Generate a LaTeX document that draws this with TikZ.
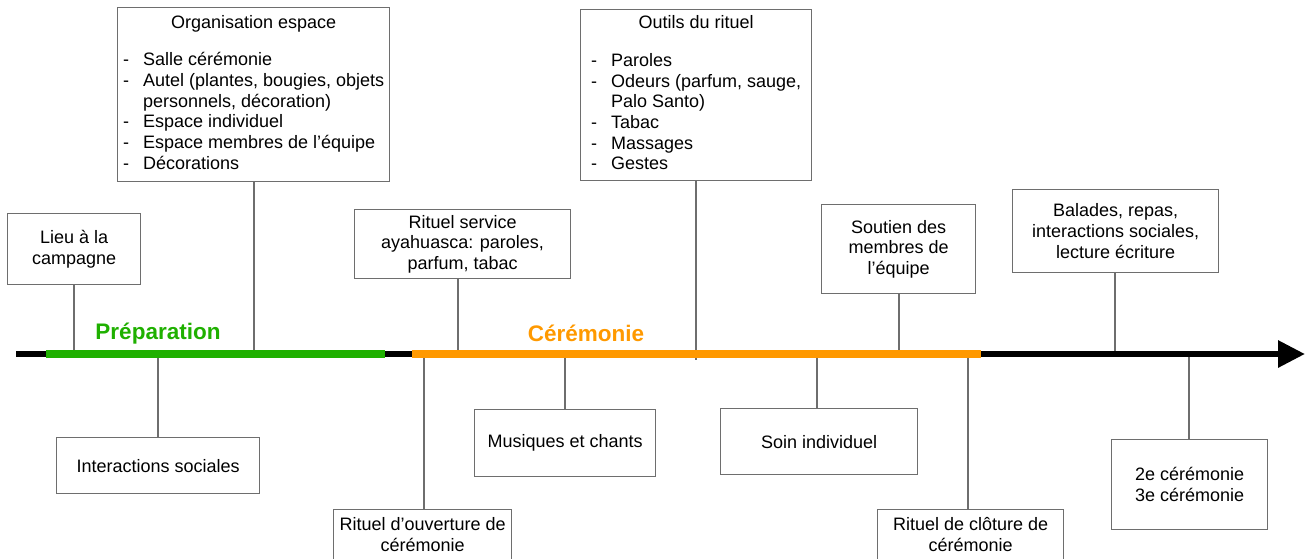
\documentclass[tikz,border=0pt]{standalone}
\usepackage{fontspec}
\setmainfont{Liberation Sans}
\usetikzlibrary{arrows.meta}
\definecolor{vertPrep}{RGB}{31,176,0}
\definecolor{orangeCer}{RGB}{255,153,0}
\definecolor{gris}{RGB}{110,110,110}
\begin{document}
\begin{tikzpicture}[x=1pt, y=-1pt,
  kasten/.style={draw=gris, line width=1.2pt, align=center, inner sep=0pt, anchor=north west,
    font=\fontsize{18}{20.7}\selectfont},
  strich/.style={draw=gris, line width=1.2pt},
  phase/.style={font=\bfseries\fontsize{22.5}{26}\selectfont}]
\useasboundingbox (0,0) rectangle (1309,558);

		%Punkte auf der Zeitachse
		\coordinate (t1) at (74,354);
		\coordinate (t2) at (254,354);
		\coordinate (t3) at (458,354);
		\coordinate (t4) at (696,354);
		\coordinate (t5) at (899,354);
		\coordinate (t6) at (1115,354);
		\coordinate (t7) at (158,354);
		\coordinate (t8) at (424,354);
		\coordinate (t9) at (565,354);
		\coordinate (t10) at (817,354);
		\coordinate (t11) at (968,354);
		\coordinate (t12) at (1189,354);
		\coordinate (t4b) at (696,360);

		%Kaesten oben
		\node[kasten, minimum width=133pt, minimum height=71pt] (lieu) at (7,213) {Lieu à la\\campagne};
		\node[kasten, minimum width=272pt, minimum height=174pt] (orga) at (117,7) {%
			\begin{tabular}{@{}l@{\hspace{14pt}}l@{}}
			\multicolumn{2}{c}{Organisation espace}\\[17pt]
			- & Salle cérémonie\\
			- & Autel (plantes, bougies, objets\\
			  & personnels, décoration)\\
			- & Espace individuel\\
			- & Espace membres de l’équipe\\
			- & Décorations
			\end{tabular}};
		\node[kasten, minimum width=216pt, minimum height=69pt] (service) at (354,209) {Rituel service\\ayahuasca: paroles,\\parfum, tabac};
		\node[kasten, minimum width=231pt, minimum height=171pt] (outils) at (580,9) {%
			\begin{tabular}{@{}l@{\hspace{14pt}}l@{}}
			\multicolumn{2}{c}{Outils du rituel}\\[17pt]
			- & Paroles\\
			- & Odeurs (parfum, sauge,\\
			  & Palo Santo)\\
			- & Tabac\\
			- & Massages\\
			- & Gestes
			\end{tabular}};
		\node[kasten, minimum width=154pt, minimum height=89pt] (soutien) at (821,204) {Soutien des\\membres de\\l’équipe};
		\node[kasten, minimum width=206pt, minimum height=83pt] (balades) at (1012,189) {Balades, repas,\\interactions sociales,\\lecture écriture};

		%Kaesten unten
		\node[kasten, minimum width=203pt, minimum height=56pt] (inter) at (56,437) {Interactions sociales};
		\node[kasten, minimum width=178pt, inner ysep=8pt] (ouverture) at (333,509) {Rituel d’ouverture de\\cérémonie};
		\node[kasten, minimum width=181pt, minimum height=67pt] (musiques) at (474,409) {Musiques et chants};
		\node[kasten, minimum width=197pt, minimum height=66pt] (soin) at (720,408) {Soin individuel};
		\node[kasten, minimum width=186pt, inner ysep=8pt] (cloture) at (877,509) {Rituel de clôture de\\cérémonie};
		\node[kasten, minimum width=156pt, minimum height=90pt] (ceremonies) at (1111,439) {2e cérémonie\\3e cérémonie};

		%senkrechte Striche
		\draw[strich] (lieu.south -| t1) -- (t1);
		\draw[strich] (orga.south -| t2) -- (t2);
		\draw[strich] (service.south -| t3) -- (t3);
		\draw[strich] (outils.south -| t4) -- (t4b);
		\draw[strich] (soutien.south -| t5) -- (t5);
		\draw[strich] (balades.south -| t6) -- (t6);
		\draw[strich] (t7) -- (t7 |- inter.north);
		\draw[strich] (t8) -- (t8 |- ouverture.north);
		\draw[strich] (t9) -- (t9 |- musiques.north);
		\draw[strich] (t10) -- (t10 |- soin.north);
		\draw[strich] (t11) -- (t11 |- cloture.north);
		\draw[strich] (t12) -- (t12 |- ceremonies.north);

		%Zeitachse
		\draw[line width=6pt, -{Triangle[length=27pt, width=26pt]}] (16,354) -- (1305,354);
		\draw[vertPrep, line width=7.7pt] (46,354) -- (385,354);
		\draw[orangeCer, line width=7.7pt] (412,354) -- (981,354);

		%Phasen
		\node[phase, text=vertPrep] (prep) at (158,334) {Préparation};
		\node[phase, text=orangeCer] (cer) at (586,333) {Cérémonie};
\end{tikzpicture}
\end{document}
